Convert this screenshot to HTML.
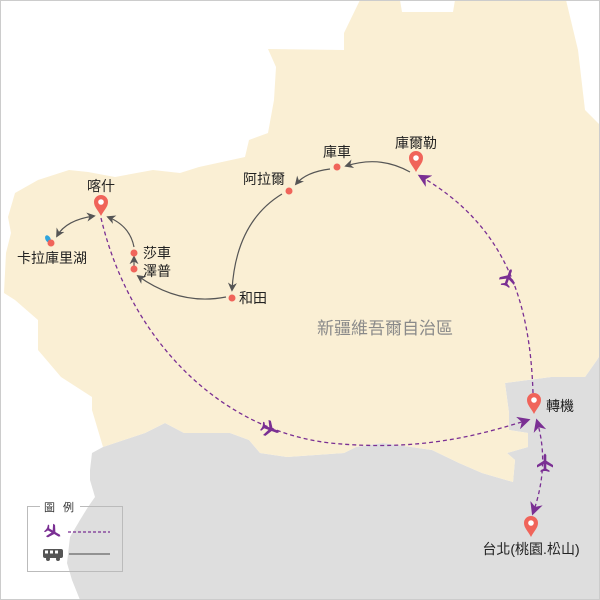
<!DOCTYPE html>
<html><head><meta charset="utf-8"><style>
html,body{margin:0;padding:0;background:#fff}
svg{display:block}
text{font-family:"Liberation Sans","Noto Sans CJK TC",sans-serif}
</style></head><body>
<svg width="600" height="600" viewBox="0 0 600 600" xmlns="http://www.w3.org/2000/svg">
<defs>
<marker id="ag" viewBox="0 0 10 10" refX="8" refY="5" markerWidth="9" markerHeight="9" orient="auto-start-reverse" markerUnits="userSpaceOnUse"><path d="M0,0 L10,5 L0,10 L3,5 z" fill="#555"/></marker>
<marker id="ap" viewBox="0 0 10 10" refX="8" refY="5" markerWidth="13" markerHeight="13" orient="auto-start-reverse" markerUnits="userSpaceOnUse"><path d="M0,0 L10,5 L0,10 L3,5 z" fill="#7a2f93"/></marker>
<g id="pin"><path d="M0,0 C-3,-6 -7,-9 -7,-14 A7,7 0 1 1 7,-14 C7,-9 3,-6 0,0 z" fill="#f0645a"/><circle cx="0" cy="-14" r="2.8" fill="#fff"/></g>
<g id="plane" fill="#7a2f93"><path d="M-8,-1.3 L8,-1.3 L9.5,0 L8,1.3 L-8,1.3 z"/><path d="M-1,-1 L2.5,-1 L-2,-8 L-4.5,-8 z"/><path d="M-1,1 L2.5,1 L-2,8 L-4.5,8 z"/><path d="M-8,-1 L-5.5,-1 L-7.5,-4.5 L-9,-4.5 z"/><path d="M-8,1 L-5.5,1 L-7.5,4.5 L-9,4.5 z"/></g>
</defs>
<rect width="600" height="600" fill="#fff"/>
<!-- gray region -->
<path d="M92,453 L103,447 L145,433 L165,423 L184,433 L230,433 L249,440 L260,453 L287,457 L344,453 L356,447 L383,443 L432,450 L459,463 L482,473 L513,482 L515,460 L507,453 L528,447 L528,433 L509,430 L509,413 L505,383 L551,377 L585,377 L597,360 L600,355 L600,600 L80,600 L72,580 L67,563 L70,537 L80,520 L88,507 L95,497 L90,480 L90,470 z" fill="#dedede"/>
<!-- beige -->
<path d="M360,0 L400,0 L402,12 L453,12 L455,0 L566,0 L578,50 L585,110 L600,125 L600,355 L597,360 L585,377 L551,377 L505,383 L509,413 L509,430 L528,433 L528,447 L507,453 L515,460 L513,482 L482,473 L459,463 L432,450 L383,443 L356,447 L344,453 L287,457 L260,453 L249,440 L230,433 L184,433 L165,423 L145,433 L103,447 L92,410 L92,397 L61,377 L38,350 L38,320 L15,300 L4,293 L6,253 L11,233 L8,217 L15,193 L38,180 L69,170 L88,172 L115,177 L153,170 L180,173 L199,167 L245,157 L249,140 L268,133 L274,100 L276,67 L268,49 L344,50 L344,33 z" fill="#faefd4"/>
<rect x="0.5" y="0.5" width="599" height="599" fill="none" stroke="#ccc"/>

<text x="385" y="334" font-size="17" fill="#8a8a8a" text-anchor="middle">新疆維吾爾自治區</text>

<g fill="none" stroke="#555" stroke-width="1.2">
<path d="M410,172 Q380,155 346,166" marker-end="url(#ag)"/>
<path d="M330,169 Q306,172 296,184" marker-end="url(#ag)"/>
<path d="M282,194 Q236,222 232,290" marker-end="url(#ag)"/>
<path d="M226,297 Q180,306 138,276" marker-end="url(#ag)"/>
<path d="M134,266 L134,257" marker-end="url(#ag)"/>
<path d="M134,247 Q130,226 108,217" marker-end="url(#ag)"/>
<path d="M94,216 Q66,220 57,236" marker-end="url(#ag)" marker-start="url(#ag)"/>
</g>
<g fill="none" stroke="#7a2f93" stroke-width="1.3" stroke-dasharray="4,3">
<path d="M101,218 C130,340 220,430 330,443 C420,452 480,435 528,420" marker-end="url(#ap)"/>
<path d="M533,393 C530,300 505,225 420,176" marker-end="url(#ap)"/>
<path d="M537,421 Q550,465 533,513" marker-end="url(#ap)" marker-start="url(#ap)"/>
</g>
<use href="#plane" transform="translate(270,429) rotate(20)"/>
<use href="#plane" transform="translate(508,278) rotate(-70)"/>
<use href="#plane" transform="translate(545,463) rotate(-90)"/>

<g fill="#f0645a">
<circle cx="337" cy="167" r="3.5"/>
<circle cx="289" cy="191" r="3.5"/>
<circle cx="232" cy="298" r="3.5"/>
<circle cx="134" cy="253" r="3.5"/>
<circle cx="134" cy="269" r="3.5"/>
</g>
<ellipse cx="48" cy="239" rx="2.5" ry="4" fill="#2ea4dd" transform="rotate(-30 48 239)"/>
<circle cx="51" cy="243" r="3.5" fill="#f0645a"/>

<use href="#pin" transform="translate(416,172)"/>
<use href="#pin" transform="translate(101,216)"/>
<use href="#pin" transform="translate(534,414)"/>
<use href="#pin" transform="translate(531,537)"/>

<g font-size="14" fill="#222">
<text x="416" y="148" text-anchor="middle">庫爾勒</text>
<text x="337" y="157" text-anchor="middle">庫車</text>
<text x="264" y="184" text-anchor="middle">阿拉爾</text>
<text x="101" y="191" text-anchor="middle">喀什</text>
<text x="52" y="263" text-anchor="middle">卡拉庫里湖</text>
<text x="143" y="258">莎車</text>
<text x="143" y="276">澤普</text>
<text x="239" y="303">和田</text>
<text x="546" y="411">轉機</text>
<text x="531" y="554" text-anchor="middle">台北(桃園.松山)</text>
</g>

<rect x="27.5" y="506.5" width="95" height="65" fill="none" stroke="#bbb"/>
<rect x="40" y="500" width="40" height="12" fill="#fff"/>
<text x="44" y="511" font-size="11" fill="#333">圖</text>
<text x="63" y="511" font-size="11" fill="#333">例</text>
<use href="#plane" transform="translate(53,532) rotate(30) scale(0.9)"/>
<line x1="68" y1="532" x2="110" y2="532" stroke="#7a2f93" stroke-width="1.2" stroke-dasharray="3,2"/>
<g fill="#555">
<rect x="43" y="549" width="20" height="9" rx="2"/>
<circle cx="48" cy="559" r="2"/><circle cx="58" cy="559" r="2"/>
</g>
<g fill="#fff"><rect x="45" y="550.5" width="3" height="3"/><rect x="50" y="550.5" width="3" height="3"/><rect x="55" y="550.5" width="3" height="3"/></g>
<line x1="69" y1="554" x2="110" y2="554" stroke="#666" stroke-width="1.2"/>
</svg>
</body></html>
